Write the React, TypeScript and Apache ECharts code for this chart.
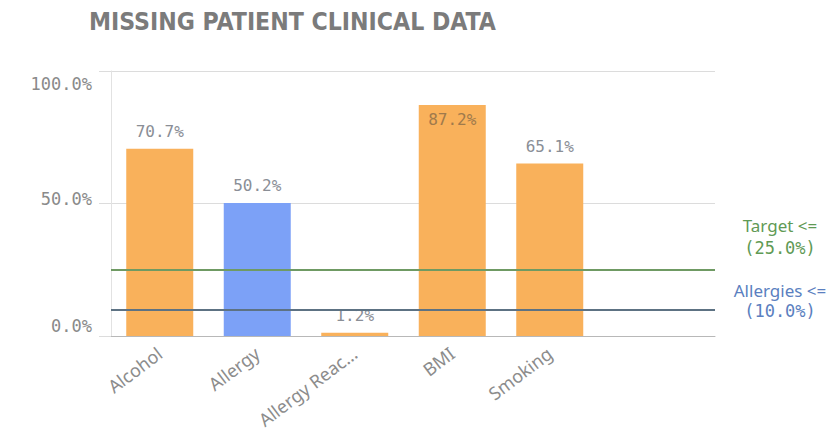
import React, { useEffect, useRef } from "react";
import * as echarts from "echarts";

// Share of patient records missing each clinical field
const categories = ["Alcohol", "Allergy", "Allergy Reactions", "BMI", "Smoking"];
const missingPct = [70.7, 50.2, 1.2, 87.2, 65.1];
const barColors = ["#F9B15B", "#7CA1F7", "#F9B15B", "#F9B15B", "#F9B15B"];

// Threshold lines
const targetPct = 25.0;
const allergyTargetPct = 10.0;

const yTicks = [0, 50, 100];

const MONO = "'DejaVu Sans Mono', 'Liberation Mono', monospace";
const SANS = "'Noto Sans', 'DejaVu Sans', sans-serif";

const truncate = (s: string) => (s.length > 13 ? s.slice(0, 12) + "..." : s);

export default function App() {
  const ref = useRef<HTMLDivElement>(null);

  useEffect(() => {
    if (!ref.current) return;
    const chart = echarts.init(ref.current, undefined, { renderer: "svg" });

    const gridTop = 71;
    const gridBottom = 103;
    const gridLeft = 111;
    const yMin = yTicks[0];
    const yMax = yTicks[yTicks.length - 1];

    // y labels sit inside the plot's vertical range: top one nudged down, bottom one up
    const yLabelStyle = { fontFamily: MONO, fontSize: 17, color: "#8a8a8a" };

    chart.setOption({
      animation: false,
      backgroundColor: "#ffffff",
      title: {
        text: "MISSING PATIENT CLINICAL DATA",
        left: 84,
        top: 4,
        textStyle: {
          fontFamily: "'DejaVu Sans Condensed', 'Liberation Sans Narrow', 'DejaVu Sans', sans-serif",
          fontWeight: "bold",
          fontSize: 24.6,
          color: "#7b7b7b",
        },
      },
      grid: [
        // full-width frame for the value axis, grid lines and thresholds
        { left: gridLeft, right: 125, top: gridTop, bottom: gridBottom },
        // bars
        { left: gridLeft, right: 241.5, top: gridTop, bottom: gridBottom },
      ],
      xAxis: [
        {
          gridIndex: 0,
          type: "value",
          min: 0,
          max: 1,
          axisLine: { show: true, lineStyle: { color: "#b8b8b8", width: 1 } },
          axisTick: { show: false },
          axisLabel: { show: false },
          splitLine: { show: false },
        },
        {
          gridIndex: 1,
          type: "category",
          data: categories,
          axisLine: { show: false },
          axisTick: { show: false },
          axisLabel: {
            rotate: 37,
            margin: 15,
            color: "#8c8c8c",
            fontFamily: SANS,
            fontSize: 18,
            formatter: (v: string) => truncate(v),
          },
        },
      ],
      yAxis: [
        {
          gridIndex: 0,
          type: "value",
          min: yMin,
          max: yMax,
          interval: 50,
          axisLine: { show: true, lineStyle: { color: "#e2e2e2" } },
          axisTick: { show: true, length: 12, lineStyle: { color: "#dcdcdc" } },
          axisLabel: {
            margin: 19,
            ...yLabelStyle,
            formatter: (v: number) => {
              const txt = v.toFixed(1) + "%";
              if (v === yMax) return "{top|" + txt + "}";
              if (v === yMin) return "{bot|" + txt + "}";
              return "{mid|" + txt + "}";
            },
            rich: {
              top: { ...yLabelStyle, padding: [26, 0, 0, 0] },
              mid: { ...yLabelStyle, padding: [0, 0, 10, 0] },
              bot: { ...yLabelStyle, padding: [0, 0, 20, 0] },
            },
          },
          splitLine: { show: true, lineStyle: { color: "#dcdcdc", width: 1 } },
        },
        {
          gridIndex: 1,
          type: "value",
          min: yMin,
          max: yMax,
          show: false,
          splitLine: { show: false },
        },
      ],
      series: [
        {
          type: "line",
          xAxisIndex: 0,
          yAxisIndex: 0,
          data: [],
          silent: true,
          markLine: {
            silent: true,
            symbol: "none",
            data: [
              {
                yAxis: targetPct,
                lineStyle: { color: "#6f9a63", width: 2, type: "solid" },
                label: {
                  show: true,
                  position: "end",
                  formatter: "{a|Target <=}\n{b|(" + targetPct.toFixed(1) + "%)}",
                  align: "center",
                  offset: [60, -33],
                  rich: {
                    a: { fontFamily: SANS, fontSize: 17, color: "#5f9a55", lineHeight: 23, align: "center" },
                    b: { fontFamily: MONO, fontSize: 17, color: "#5f9a55", lineHeight: 23, align: "center" },
                  },
                },
              },
              {
                yAxis: allergyTargetPct,
                lineStyle: { color: "#5d7283", width: 2, type: "solid" },
                label: {
                  show: true,
                  position: "end",
                  formatter: "{a|Allergies <=}\n{b|(" + allergyTargetPct.toFixed(1) + "%)}",
                  align: "center",
                  offset: [60, -9],
                  rich: {
                    a: { fontFamily: SANS, fontSize: 17, color: "#5b7fc0", lineHeight: 21, align: "center" },
                    b: { fontFamily: MONO, fontSize: 17, color: "#5b7fc0", lineHeight: 21, align: "center" },
                  },
                },
              },
            ],
          },
        },
        {
          type: "bar",
          xAxisIndex: 1,
          yAxisIndex: 1,
          barWidth: 67,
          data: missingPct.map((v, i) => {
            const inside = v > 85;
            return {
              value: v,
              itemStyle: { color: barColors[i] },
              label: inside
                ? { position: "insideTop", distance: 7, color: "#a07a4c" }
                : { position: "top", distance: 9 },
            };
          }),
          label: {
            show: true,
            fontFamily: MONO,
            fontSize: 16,
            color: "#8a8e96",
            formatter: (p: any) => Number(p.value).toFixed(1) + "%",
          },
        },
      ],
    });

    return () => chart.dispose();
  }, []);

  return (
    <div
      ref={ref}
      style={{ position: "absolute", left: 0, top: 0, width: 840, height: 439 }}
    />
  );
}
